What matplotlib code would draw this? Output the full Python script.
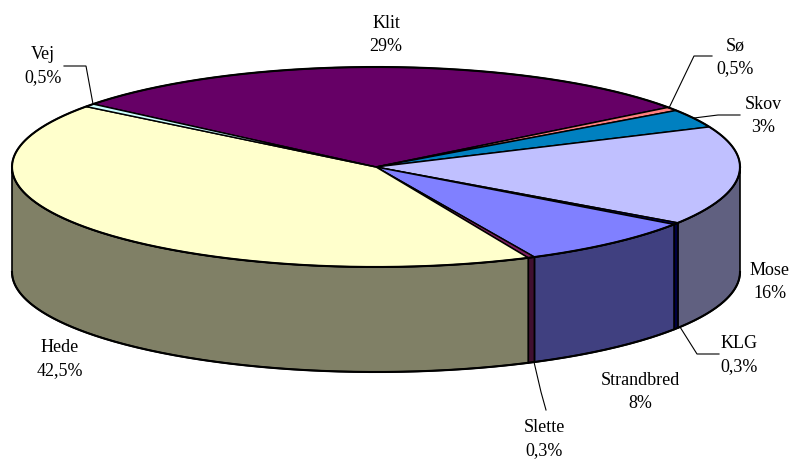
import numpy as np
import matplotlib
matplotlib.use("Agg")
import matplotlib.pyplot as plt
from matplotlib.patches import Polygon

categories = ["Klit", "Sø", "Skov", "Mose", "KLG", "Strandbred", "Slette", "Hede", "Vej"]
values = [29, 0.6, 3, 16, 0.3, 8.1, 0.3, 42.2, 0.5]
value_labels = ["29%", "0,5%", "3%", "16%", "0,3%", "8%", "0,3%", "42,5%", "0,5%"]
top_colors = ["#660066", "#FF8080", "#0080C0", "#C0C0FF", "#000080", "#8080FF", "#802060", "#FFFFCC", "#CCFFFF"]
side_colors = ["#330033", "#804040", "#004060", "#606080", "#000040", "#404080", "#401030", "#808066", "#668080"]
label_pos = [(386, 35), (735, 57), (763, 116), (770, 282), (739, 355), (640, 392), (544, 439), (60, 359), (43, 66)]
leaders = {
    "Sø": [(712, 56), (694, 56), (669, 108)],
    "Skov": [(740, 115), (718, 115), (694, 118)],
    "KLG": [(719, 354), (697, 354), (680, 327)],
    "Slette": [(546, 410), (541, 392), (534, 362)],
    "Vej": [(64, 66), (86, 66), (93, 104)],
}

CX, CY, A, B, DEPTH = 376, 167, 364, 100, 105
START = 141.0


def pt(deg, dy=0):
    t = np.radians(deg)
    return CX + A * np.cos(t), CY - B * np.sin(t) + dy


fig = plt.figure(figsize=(7.95, 4.62), dpi=100)
ax = fig.add_axes([0, 0, 1, 1])
ax.set_xlim(0, 795)
ax.set_ylim(462, 0)
ax.axis("off")

sweeps = np.array(values) / sum(values) * 360
ends = START - np.cumsum(sweeps)
starts = ends + sweeps

# Side walls: only the front half of the rim (-180 to 0 degrees) is visible
for s, e, c in zip(starts, ends, side_colors):
    for shift in (0, -360):
        hi, lo = min(s + shift, 0), max(e + shift, -180)
        if hi <= lo:
            continue
        ts = np.linspace(hi, lo, 80)
        x, y = pt(ts)
        xb, yb = pt(ts, DEPTH)
        verts = np.r_[np.c_[x, y], np.c_[xb, yb][::-1]]
        ax.add_patch(Polygon(verts, closed=True, fc=c, ec="black", lw=1.2, joinstyle="round", zorder=2))

# Top faces
for s, e, c in zip(starts, ends, top_colors):
    ts = np.linspace(s, e, max(int(s - e) * 2, 12))
    x, y = pt(ts)
    verts = np.r_[[[CX, CY]], np.c_[x, y]]
    ax.add_patch(Polygon(verts, closed=True, fc=c, ec="black", lw=1.05, joinstyle="miter", zorder=3))

# Heavier outer rim, as in the reference
ring = np.linspace(0, 360, 721)
ax.plot(*pt(ring), color="black", lw=1.5, zorder=3.5)
front = np.linspace(-180, 0, 361)
ax.plot(*pt(front, DEPTH), color="black", lw=1.5, zorder=3.5)

# Labels
for name, val, (lx, ly) in zip(categories, value_labels, label_pos):
    ax.text(lx, ly, f"{name}\n{val}", ha="center", va="center", family="Liberation Serif",
            fontsize=13, color="black", linespacing=1.4, zorder=5)

for name, path in leaders.items():
    px, py = zip(*path)
    ax.plot(px, py, color="black", lw=0.8, zorder=4, solid_joinstyle="miter")

fig.savefig("out.png", dpi=100)
